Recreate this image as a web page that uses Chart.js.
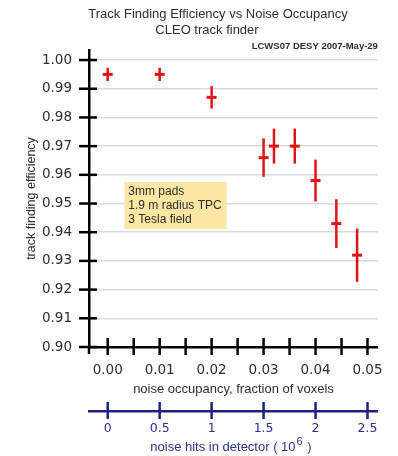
<!DOCTYPE html>
<html>
<head>
<meta charset="utf-8">
<script src="https://cdn.jsdelivr.net/npm/chart.js@4"></script>
<style>
  html, body { margin: 0; padding: 0; background: #fff; }
  #c { display: block; }
</style>
</head>
<body>
<canvas id="c" width="398" height="456"></canvas>
<script>
// Track finding efficiency measured at increasing noise occupancy
const occupancy     = [0.000, 0.010, 0.020, 0.030, 0.032, 0.036, 0.040, 0.044, 0.048];
const efficiency    = [0.995, 0.995, 0.987, 0.966, 0.970, 0.970, 0.958, 0.943, 0.932];
const efficiencyErr = [0.0023, 0.0023, 0.0039, 0.0067, 0.0061, 0.0061, 0.0073, 0.0085, 0.0093];

// Axis tick values
const efficiencyTicks = [0.90, 0.91, 0.92, 0.93, 0.94, 0.95, 0.96, 0.97, 0.98, 0.99, 1.00];
const occupancyTicks  = [0, 0.005, 0.010, 0.015, 0.020, 0.025, 0.030, 0.035, 0.040, 0.045, 0.050];
const noiseHitTicks   = [0, 0.5, 1, 1.5, 2, 2.5];

// Noise hits in the detector (units of 10^6) per unit of voxel occupancy
const hitsPerOccupancy = 50;

// Texts
const titleLines = ['Track Finding Efficiency vs Noise Occupancy', 'CLEO track finder'];
const stampText  = 'LCWS07 DESY 2007-May-29';
const noteLines  = ['3mm pads', '1.9 m radius TPC', '3 Tesla field'];
const noteAnchor = { x: 0.0032, y: 0.9575 };
const hitsTitle  = ['noise hits in detector ( 10', '6', ' )'];

// Axis ranges
const occRange = [-0.0036, 0.052];
const effRange = [0.90, 1.0035];

const RED = '#e01414';
const NAVY = '#1f2380';
const NAVY_TEXT = '#2d3192';
const INK = '#2e2e2e';
const TICK_FONT = 'DejaVu Sans';
const TEXT_FONT = 'Liberation Sans';

// Vertical error bars behind the markers
const errorBars = {
  id: 'errorBars',
  beforeDatasetsDraw(chart) {
    const { ctx, scales: { x, y } } = chart;
    ctx.save();
    ctx.strokeStyle = RED;
    ctx.lineWidth = 2.5;
    occupancy.forEach((o, i) => {
      const px = x.getPixelForValue(o);
      ctx.beginPath();
      ctx.moveTo(px, y.getPixelForValue(efficiency[i] + efficiencyErr[i]));
      ctx.lineTo(px, y.getPixelForValue(efficiency[i] - efficiencyErr[i]));
      ctx.stroke();
    });
    ctx.restore();
  }
};

// Tick marks that cross the axis lines
const crossTicks = {
  id: 'crossTicks',
  afterDraw(chart) {
    const { ctx, scales: { x, y, x2 }, chartArea } = chart;
    ctx.save();
    ctx.lineWidth = 2.5;
    ctx.strokeStyle = '#000';
    // y axis runs a little below the x axis
    ctx.beginPath();
    ctx.moveTo(y.right, chartArea.bottom);
    ctx.lineTo(y.right, chartArea.bottom + 7);
    ctx.stroke();
    efficiencyTicks.forEach(v => {
      const py = y.getPixelForValue(v);
      ctx.beginPath();
      ctx.moveTo(y.right - 10, py);
      ctx.lineTo(y.right + 8, py);
      ctx.stroke();
    });
    occupancyTicks.forEach(v => {
      const px = x.getPixelForValue(v);
      ctx.beginPath();
      ctx.moveTo(px, x.top - 9);
      ctx.lineTo(px, x.top + 8);
      ctx.stroke();
    });
    ctx.strokeStyle = NAVY;
    noiseHitTicks.forEach(v => {
      const px = x2.getPixelForValue(v);
      ctx.beginPath();
      ctx.moveTo(px, x2.top - 9);
      ctx.lineTo(px, x2.top + 8);
      ctx.stroke();
    });
    ctx.restore();
  }
};

// Titles, stamp, detector note and the secondary axis title with its exponent
const annotations = {
  id: 'annotations',
  afterDraw(chart) {
    const { ctx, chartArea, scales: { x, y, x2 } } = chart;
    ctx.save();
    ctx.fillStyle = INK;
    ctx.textBaseline = 'middle';
    ctx.textAlign = 'center';
    ctx.font = `13px "${TEXT_FONT}"`;
    ctx.fillText(titleLines[0], 218, 14);
    ctx.fillText(titleLines[1], 207, 30);

    ctx.textAlign = 'right';
    ctx.font = `bold 9.5px "${TEXT_FONT}"`;
    ctx.fillText(stampText, chartArea.right, 46);

    // note box anchored in data coordinates
    ctx.font = `12px "${TEXT_FONT}"`;
    const bx = x.getPixelForValue(noteAnchor.x);
    const by = y.getPixelForValue(noteAnchor.y);
    const lineH = 13.7;
    const w = Math.max(...noteLines.map(t => ctx.measureText(t).width)) + 9;
    const h = noteLines.length * lineH + 6;
    ctx.fillStyle = '#fbe6a4';
    ctx.fillRect(bx, by, w, h);
    ctx.fillStyle = INK;
    ctx.textAlign = 'left';
    noteLines.forEach((t, i) => ctx.fillText(t, bx + 4, by + 10 + i * lineH));

    // secondary axis title: "( 10^6 )" with a raised exponent
    const base = `13px "${TEXT_FONT}"`;
    const sup = `11px "${TEXT_FONT}"`;
    ctx.font = base; const w0 = ctx.measureText(hitsTitle[0]).width;
    const w2 = ctx.measureText(hitsTitle[2]).width;
    ctx.font = sup; const w1 = ctx.measureText(hitsTitle[1]).width + 1;
    const cx = (x2.left + x2.right) / 2 - 3;
    const ty = x2.bottom - 9;
    let tx = cx - (w0 + w1 + w2) / 2;
    ctx.fillStyle = NAVY_TEXT;
    ctx.font = base; ctx.fillText(hitsTitle[0], tx, ty); tx += w0 + 1;
    ctx.font = sup; ctx.fillText(hitsTitle[1], tx, ty - 5); tx += w1;
    ctx.font = base; ctx.fillText(hitsTitle[2], tx, ty);
    ctx.restore();
  }
};

new Chart(document.getElementById('c'), {
  type: 'scatter',
  data: {
    datasets: [{
      data: occupancy.map((o, i) => ({ x: o, y: efficiency[i] })),
      pointStyle: 'line',
      pointRadius: 5,
      pointHoverRadius: 5,
      borderWidth: 3,
      borderColor: RED,
      backgroundColor: RED
    }]
  },
  options: {
    responsive: false,
    animation: false,
    devicePixelRatio: 1,
    layout: { padding: { top: 50, right: 13, left: 0, bottom: 0 } },
    plugins: { legend: { display: false }, tooltip: { enabled: false }, title: { display: false } },
    scales: {
      x: {
        type: 'linear',
        position: 'bottom',
        weight: 0,
        min: occRange[0],
        max: occRange[1],
        afterBuildTicks: s => { s.ticks = occupancyTicks.map(v => ({ value: v })); },
        afterFit: s => { s.height = 64; },
        grid: { display: false, drawTicks: false },
        border: { display: true, color: '#000', width: 2.5 },
        ticks: {
          autoSkip: false, maxRotation: 0, padding: 15,
          color: INK, font: { family: TICK_FONT, size: 13.5 },
          callback: v => Math.abs(v * 100 - Math.round(v * 100)) < 1e-6 ? v.toFixed(2) : ''
        },
        title: {
          display: true, text: 'noise occupancy, fraction of voxels',
          color: INK, font: { family: TEXT_FONT, size: 13 },
          padding: { top: 2, bottom: 14 }
        }
      },
      x2: {
        type: 'linear',
        axis: 'x',
        position: 'bottom',
        weight: 1,
        min: occRange[0] * hitsPerOccupancy,
        max: occRange[1] * hitsPerOccupancy,
        afterBuildTicks: s => { s.ticks = noiseHitTicks.map(v => ({ value: v })); },
        afterFit: s => { s.height = 45; },
        grid: { display: false, drawTicks: false },
        border: { display: true, color: NAVY, width: 2.5 },
        ticks: {
          autoSkip: false, maxRotation: 0, padding: 10,
          color: NAVY_TEXT, font: { family: TICK_FONT, size: 12.5 },
          callback: v => String(v)
        },
        title: { display: false }
      },
      y: {
        type: 'linear',
        min: effRange[0],
        max: effRange[1],
        afterBuildTicks: s => { s.ticks = efficiencyTicks.map(v => ({ value: v })); },
        afterFit: s => { s.width = 89; },
        grid: {
          drawTicks: false,
          lineWidth: 1.5,
          color: c => (c.tick && c.tick.value <= efficiencyTicks[0] + 1e-9) ? 'rgba(0,0,0,0)' : '#dadada'
        },
        border: { display: true, color: '#000', width: 2.5 },
        ticks: {
          padding: 17, color: INK, font: { family: TICK_FONT, size: 13.5 },
          callback: v => v.toFixed(2)
        },
        title: {
          display: true, text: 'track finding efficiency',
          color: INK, font: { family: TEXT_FONT, size: 12.5 },
          padding: { top: 24, bottom: 0 }
        }
      }
    }
  },
  plugins: [errorBars, crossTicks, annotations]
});
</script>
</body>
</html>
